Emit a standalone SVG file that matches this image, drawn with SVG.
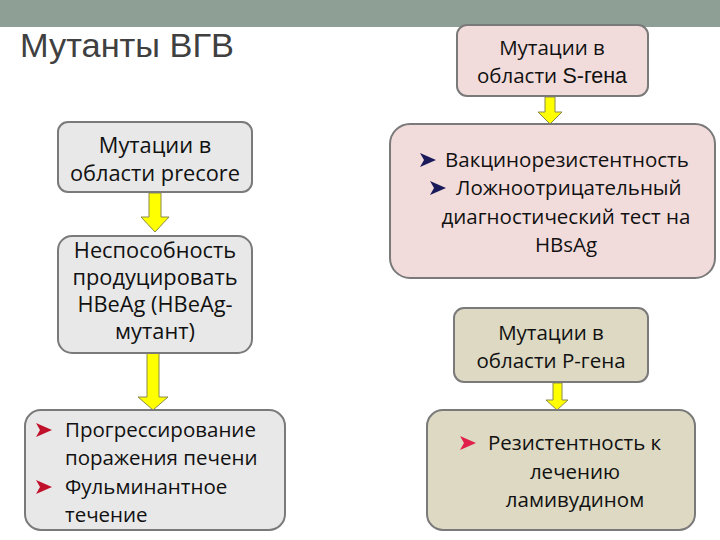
<svg xmlns="http://www.w3.org/2000/svg" width="720" height="540" viewBox="0 0 720 540">
<defs>
<style>
.box{stroke:#7a7a7a;stroke-width:2}
.grey{fill:#e8e8e8}
.pink{fill:#f2dcdb}
.olive{fill:#ddd9c3}
.t{font-family:"Open Sans","Noto Sans","Liberation Sans",sans-serif;font-size:20.5px;fill:#111}
.L{font-size:21.8px}
.c{text-anchor:middle}
.a{font-family:"Liberation Sans",Arial,sans-serif;font-size:21.5px}
.arr{fill:#ffff00;stroke:#8a8a4a;stroke-width:1}
</style>
<path id="bul" d="M0,0 L16,7 L0,14 L4,7 Z"/>
</defs>
<rect width="720" height="540" fill="#ffffff"/>
<rect x="0" y="0" width="720" height="27" fill="#8e9f95"/>
<text x="20" y="57" font-family="'Liberation Sans',Arial,sans-serif" font-size="33" fill="#404040" textLength="214" lengthAdjust="spacingAndGlyphs">Мутанты ВГВ</text>

<g id="connectors">
<path class="arr" d="M149,193 H161 V217 H169 L155,232 L141,217 H149 Z"/>
<path class="arr" d="M147,353 H159 V397 H168 L153,410 L138,397 H147 Z"/>
<path class="arr" d="M545,97 H555 V112 H562 L550,124 L538,112 H545 Z"/>
<path class="arr" d="M553,383 H562 V400 H568 L557,410 L546,400 H553 Z"/>
</g>

<g id="s-gene">
<rect class="box pink" x="457" y="25" width="191" height="71" rx="10"/>
<text class="t c" x="552" y="55">Мутации в</text>
<text class="t c" x="552" y="83">области <tspan class="a">S-гена</tspan></text>
</g>

<g id="precore">
<rect class="box grey" x="58" y="122" width="194" height="70" rx="10"/>
<text class="t L c" x="155" y="153">Мутации в</text>
<text class="t L c" x="155" y="181">области precore</text>
</g>

<g id="hbeag">
<rect class="box grey" x="58" y="236" width="194" height="117" rx="14"/>
<text class="t L c" x="155" y="258">Неспособность</text>
<text class="t L c" x="155" y="285">продуцировать</text>
<text class="t L c" x="155" y="312">HBeAg (HBeAg-</text>
<text class="t L c" x="155" y="339">мутант)</text>
</g>

<g id="progress">
<rect class="box grey" x="25" y="410" width="260" height="120" rx="16"/>
<use href="#bul" x="36" y="423" fill="#c0102a"/>
<use href="#bul" x="36" y="480" fill="#c0102a"/>
<text class="t" x="65" y="437">Прогрессирование</text>
<text class="t" x="65" y="465">поражения печени</text>
<text class="t" x="65" y="494">Фульминантное</text>
<text class="t" x="65" y="522">течение</text>
</g>

<g id="vaccine">
<rect class="box pink" x="390" y="124" width="325" height="154" rx="20"/>
<use href="#bul" x="420" y="153" fill="#1a1a5a"/>
<use href="#bul" x="430" y="181" fill="#1a1a5a"/>
<text class="t" x="445" y="167">Вакцинорезистентность</text>
<text class="t" x="456" y="195">Ложноотрицательный</text>
<text class="t c" x="566" y="224">диагностический тест на</text>
<text class="t c" x="566" y="252">HBsAg</text>
</g>

<g id="p-gene">
<rect class="box olive" x="454" y="308" width="194" height="74" rx="10"/>
<text class="t c" x="551" y="340">Мутации в</text>
<text class="t c" x="551" y="368">области P-гена</text>
</g>

<g id="lamivudine">
<rect class="box olive" x="427" y="410" width="268" height="120" rx="16"/>
<use href="#bul" x="460" y="436" fill="#e0204a"/>
<text class="t" x="488" y="450">Резистентность к</text>
<text class="t c" x="575" y="479">лечению</text>
<text class="t c" x="575" y="507">ламивудином</text>
</g>
</svg>
